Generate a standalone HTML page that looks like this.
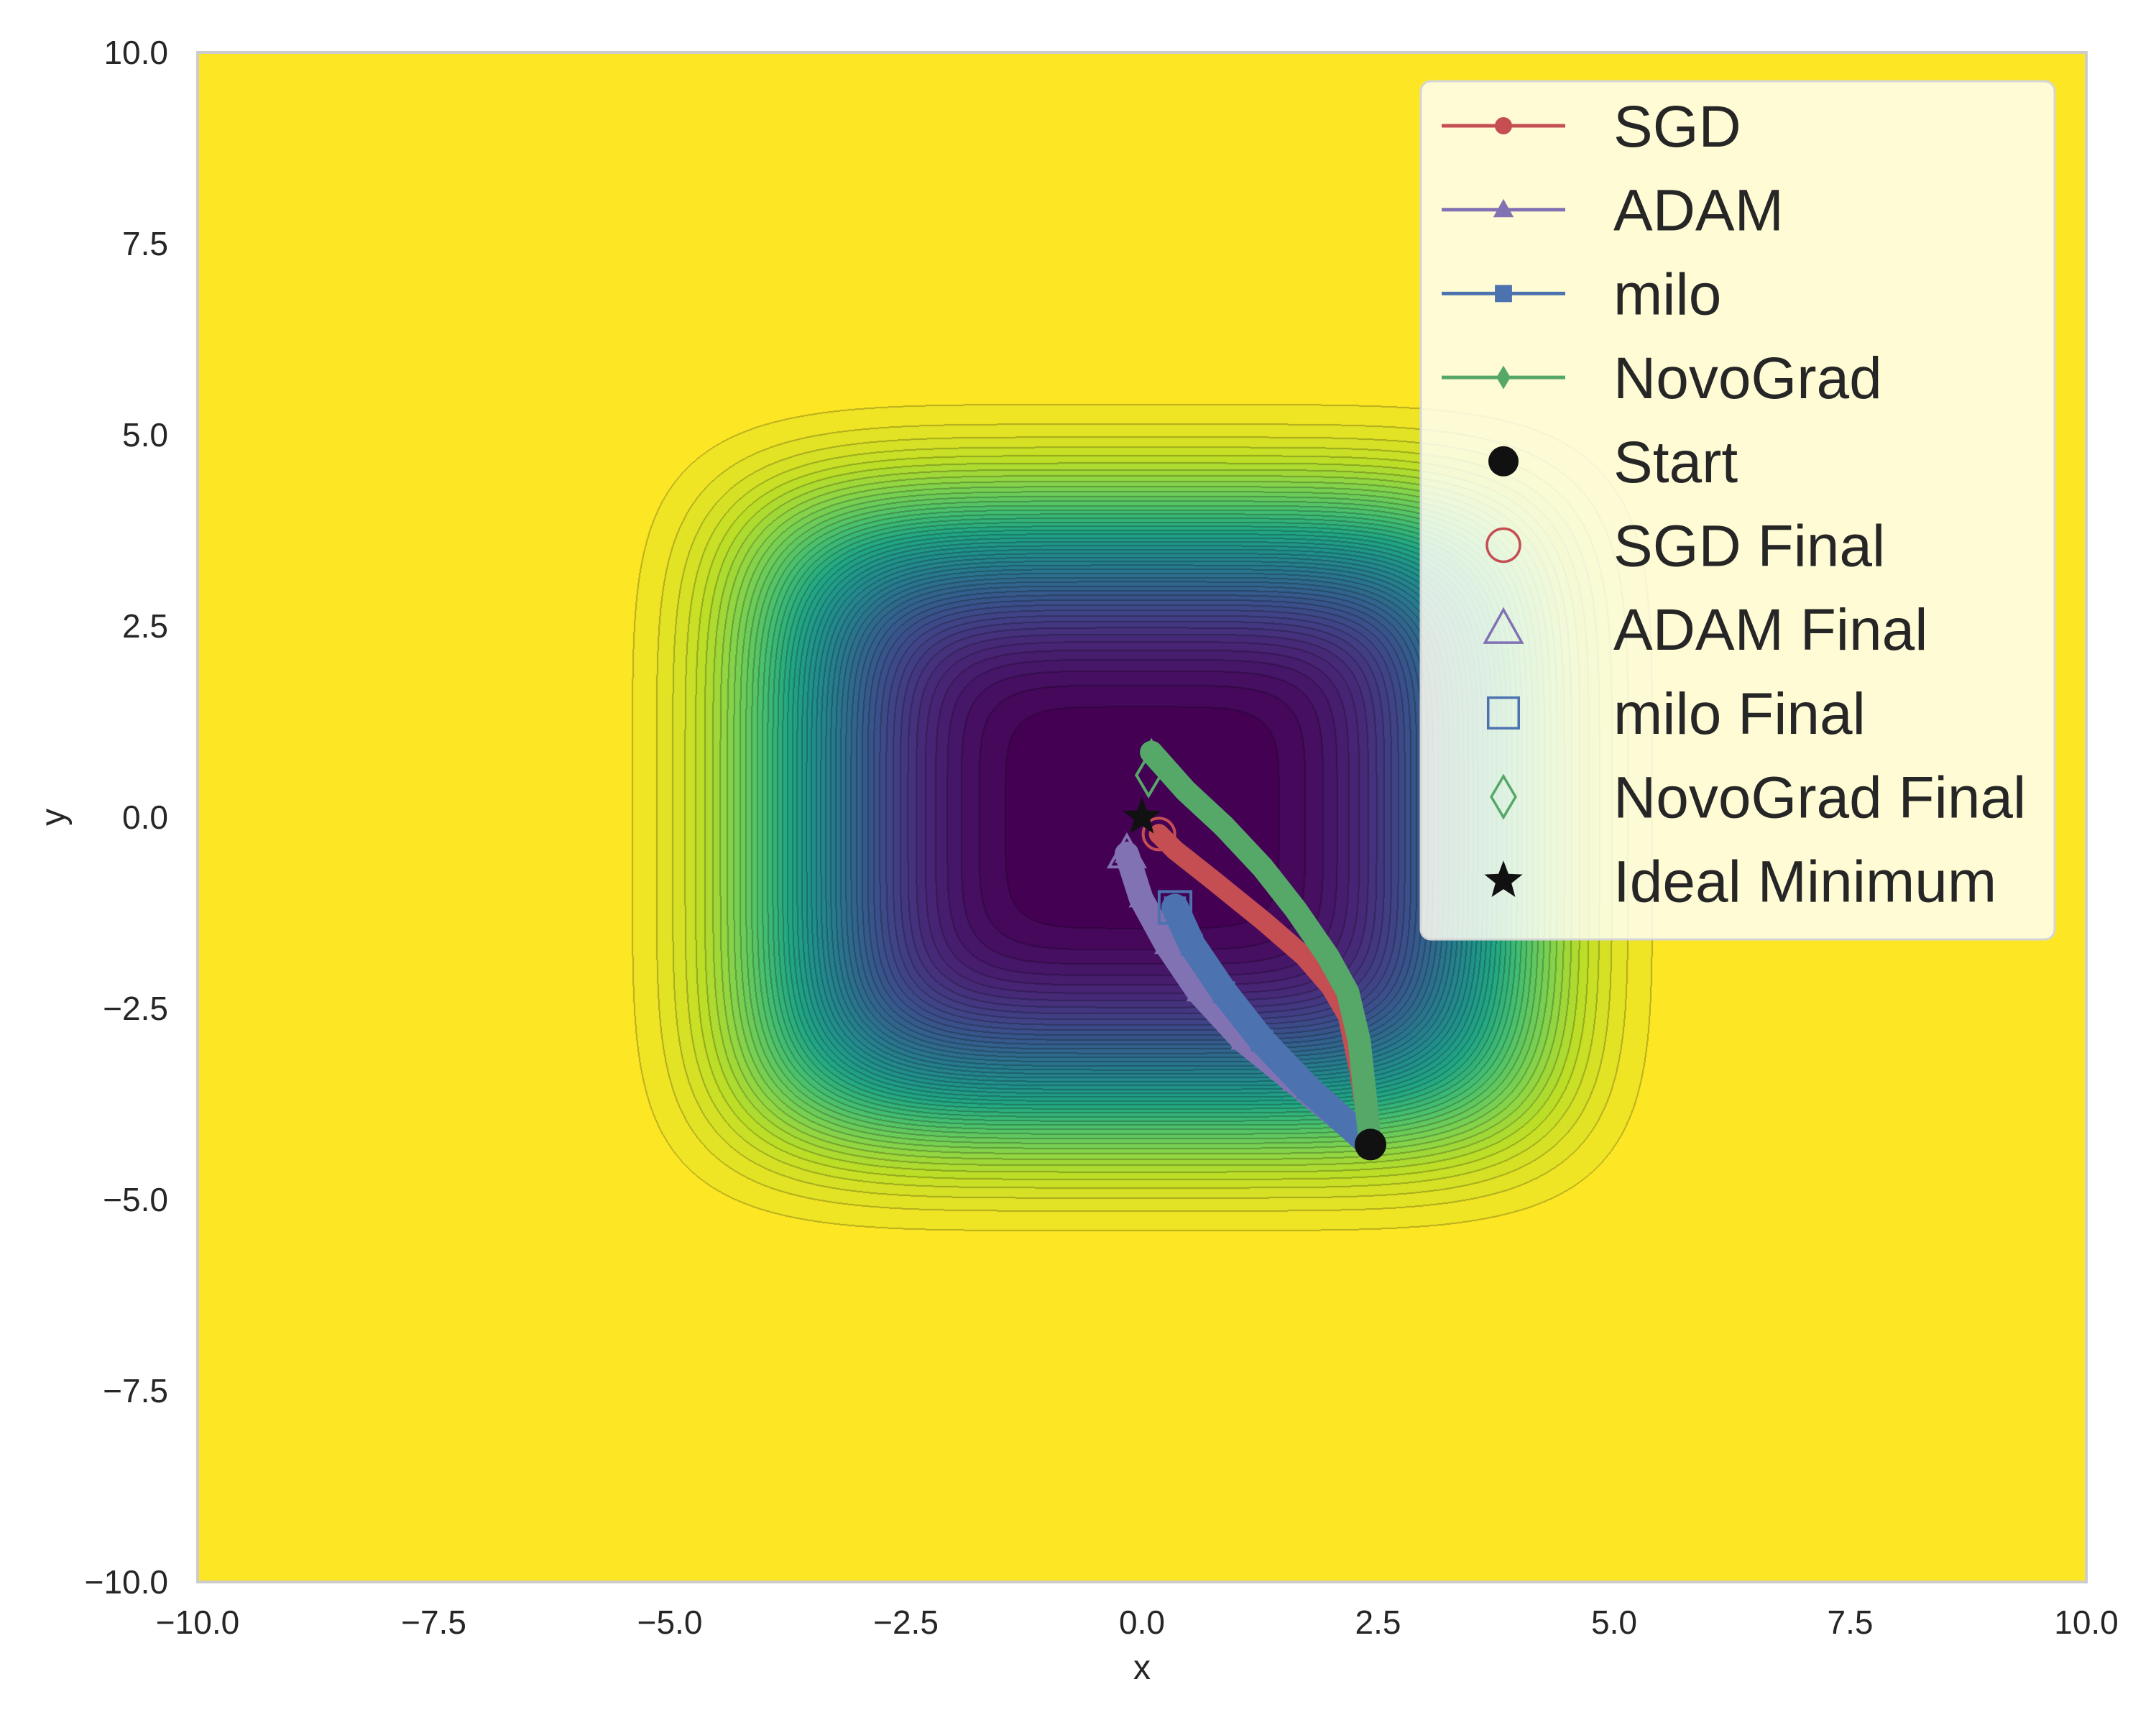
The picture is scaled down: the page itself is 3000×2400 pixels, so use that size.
<!DOCTYPE html>
<html><head><meta charset="utf-8">
<style>
html,body{margin:0;padding:0;background:#fff;}
#wrap{position:relative;width:3000px;height:2400px;overflow:hidden;font-family:"Liberation Sans",sans-serif;}
#cv{position:absolute;left:275px;top:73px;}
#ov{position:absolute;left:0;top:0;}
</style></head>
<body>
<div id="wrap">
<canvas id="cv" width="2628" height="2128"></canvas>
<svg id="ov" width="3000" height="2400"></svg>
</div>
<script>
// ---- data ----
const xTicks = [-10,-7.5,-5,-2.5,0,2.5,5,7.5,10];
const yTicks = [-10,-7.5,-5,-2.5,0,2.5,5,7.5,10];
const startPt = [2.42,-4.28];
const idealMin = [0,0];
const sgdX = [2.42,2.30,2.18,2.00,1.72,1.30,0.75,0.35,0.18];
const sgdY = [-4.28,-3.30,-2.60,-2.22,-1.82,-1.37,-0.82,-0.43,-0.22];
const adamX = [2.42,1.61,1.07,0.60,0.26,-0.01,-0.16];
const adamY = [-4.28,-3.46,-2.92,-2.29,-1.67,-1.06,-0.48];
const miloX = [2.42,1.75,1.27,0.87,0.53,0.35];
const miloY = [-4.28,-3.54,-2.92,-2.29,-1.67,-1.18];
const novoX = [2.42,2.30,2.18,1.97,1.63,1.28,0.87,0.46,0.10];
const novoY = [-4.28,-2.92,-2.29,-1.82,-1.21,-0.66,-0.12,0.35,0.85];
const novoFinal = [0.07,0.55];
const legendLabels = ["SGD","ADAM","milo","NovoGrad","Start","SGD Final","ADAM Final","milo Final","NovoGrad Final","Ideal Minimum"];
const nLevels = 50;

// ---- axes ----
const L=275,R=2903,T=73,B=2201;
const sx = v => L + (v+10)/20*(R-L);
const sy = v => B - (v+10)/20*(B-T);

// ---- contour canvas ----
const vir=[[68,1,84],[72,35,116],[64,67,135],[52,94,141],[41,120,142],[32,144,140],[34,167,132],[68,190,112],[121,209,81],[189,222,38],[253,231,37]];
function viridis(t){t=Math.max(0,Math.min(1,t));const p=t*(vir.length-1),i=Math.min(vir.length-2,Math.floor(p)),f=p-i;
return [0,1,2].map(k=>vir[i][k]+(vir[i+1][k]-vir[i][k])*f);}
(function(){
const cv=document.getElementById('cv'),ctx=cv.getContext('2d');
const W=cv.width,H=cv.height,img=ctx.createImageData(W,H),d=img.data;
const lv=new Int16Array(W*H);
const r0=3.84,p=5;
for(let j=0;j<H;j++){const y=10-j/H*20;for(let i=0;i<W;i++){const x=-10+i/W*20;
const g=Math.pow(Math.pow(Math.abs(x),p)+Math.pow(Math.abs(y),p),1/p);
const f=1-Math.exp(-Math.pow(g/r0,4));lv[j*W+i]=Math.min(nLevels-1,Math.floor(f*nLevels));}}
const cols=[];for(let k=0;k<nLevels;k++)cols.push(viridis(k/(nLevels-1)));
for(let j=0;j<H;j++)for(let i=0;i<W;i++){const idx=j*W+i,l=lv[idx];let c=cols[l];
let edge=(i+1<W&&lv[idx+1]!==l)||(j+1<H&&lv[idx+W]!==l)||(i>0&&lv[idx-1]!==l)||(j>0&&lv[idx-W]!==l);
const o=idx*4;const a=edge?0.75:1;d[o]=c[0]*a;d[o+1]=c[1]*a;d[o+2]=c[2]*a;d[o+3]=255;}
ctx.putImageData(img,0,0);
})();

// ---- svg overlay ----
const NS="http://www.w3.org/2000/svg";
const svg=document.getElementById('ov');
function mk(tag,attrs,parent){const e=document.createElementNS(NS,tag);for(const k in attrs)e.setAttribute(k,attrs[k]);(parent||svg).appendChild(e);return e;}

const frame=mk('rect',{x:L,y:T,width:R-L,height:B-T,fill:'none',stroke:'#cccccc','stroke-width':4});



xTicks.forEach(v=>{const t=mk('text',{x:sx(v),y:2273,'font-size':46,fill:'#262626','text-anchor':'middle','font-family':'Liberation Sans, sans-serif'});
t.textContent=(v<0?'\u2212':'')+Math.abs(v).toFixed(1);

});
yTicks.forEach(v=>{const t=mk('text',{x:234,y:sy(v)+16,'font-size':46,fill:'#262626','text-anchor':'end','font-family':'Liberation Sans, sans-serif'});
t.textContent=(v<0?'\u2212':'')+Math.abs(v).toFixed(1);

});
const xl=mk('text',{x:(L+R)/2,y:2336,'font-size':48,fill:'#262626','text-anchor':'middle','font-family':'Liberation Sans, sans-serif'});xl.textContent='x';


const yl=mk('text',{x:0,y:0,'font-size':48,fill:'#262626','text-anchor':'middle','font-family':'Liberation Sans, sans-serif',transform:`translate(90,${(T+B)/2}) rotate(-90)`});yl.textContent='y';



function marker(type,cx,cy,r,fill,stroke,sw,parent){
 let e;
 if(type==='circle')e=mk('circle',{cx,cy,r,fill,stroke,'stroke-width':sw},parent);
 else if(type==='tri')e=mk('polygon',{points:`${cx},${cy-r} ${cx+r*0.95},${cy+r*0.7} ${cx-r*0.95},${cy+r*0.7}`,fill,stroke,'stroke-width':sw},parent);
 else if(type==='sq')e=mk('rect',{x:cx-r*0.85,y:cy-r*0.85,width:r*1.7,height:r*1.7,fill,stroke,'stroke-width':sw},parent);
 else if(type==='dia')e=mk('polygon',{points:`${cx},${cy-r*1.1} ${cx+r*0.65},${cy} ${cx},${cy+r*1.1} ${cx-r*0.65},${cy}`,fill,stroke,'stroke-width':sw},parent);
 else if(type==='star'){let pts=[];for(let k=0;k<10;k++){const a=-Math.PI/2+k*Math.PI/5,rr=k%2?r*0.42:r;pts.push((cx+rr*Math.cos(a)).toFixed(1)+','+(cy+rr*Math.sin(a)).toFixed(1));}
  e=mk('polygon',{points:pts.join(' '),fill,stroke,'stroke-width':sw},parent);}
 return e;}

const series=[
 {name:'sgd',xs:sgdX,ys:sgdY,c:'#c44e52',w:28,m:'circle',r:14},
 {name:'adam',xs:adamX,ys:adamY,c:'#8172b3',w:34,m:'tri',r:18},
 {name:'milo',xs:miloX,ys:miloY,c:'#4c72b0',w:38,m:'sq',r:18},
 {name:'novograd',xs:novoX,ys:novoY,c:'#55a868',w:32,m:'dia',r:18}];
series.forEach(s=>{
 const g=mk('g',{});
 
 
 const pts=s.xs.map((x,i)=>sx(x)+','+sy(s.ys[i])).join(' ');
 mk('polyline',{points:pts,fill:'none',stroke:s.c,'stroke-width':s.w,'stroke-linejoin':'round','stroke-linecap':'round'},g);
 s.xs.forEach((x,i)=>{const m=marker(s.m,sx(x),sy(s.ys[i]),s.r,s.c,'none',0,g);
  
  });
});
let e;
e=marker('circle',sx(startPt[0]),sy(startPt[1]),22,'#111','none',0);


e=marker('circle',sx(sgdX[sgdX.length-1]),sy(sgdY[sgdY.length-1]),22,'none','#c44e52',4);


e=marker('tri',sx(adamX[adamX.length-1]),sy(adamY[adamY.length-1]),26,'none','#8172b3',4);


e=marker('sq',sx(miloX[miloX.length-1]),sy(miloY[miloY.length-1]),26,'none','#4c72b0',4);


e=marker('dia',sx(novoFinal[0]),sy(novoFinal[1]),26,'none','#55a868',4);


e=marker('star',sx(idealMin[0]),sy(idealMin[1]),28,'#111','none',0);



// ---- legend ----
const lg=mk('g',{});


mk('rect',{x:1977,y:113,width:2859-1977,height:1307-113,rx:14,fill:'#fffff4','fill-opacity':0.85,stroke:'#d5d5d5','stroke-width':3},lg);
const lspec=[['line','circle','#c44e52',12],['line','tri','#8172b3',15],['line','sq','#4c72b0',14],['line','dia','#55a868',15],
 ['pt','circle','#111',21],['open','circle','#c44e52',23],['open','tri','#8172b3',27],['open','sq','#4c72b0',25],['open','dia','#55a868',26],['pt','star','#111',28]];
legendLabels.forEach((lab,i)=>{
 const y=175+i*116.7;
 const ent=mk('g',{},lg);
 
 
 const [kind,m,c,r]=lspec[i];
 if(kind==='line'){mk('line',{x1:2006,y1:y,x2:2178,y2:y,stroke:c,'stroke-width':5},ent);marker(m,2092,y,r,c,'none',0,ent);}
 else if(kind==='pt')marker(m,2092,y,r,c,'none',0,ent);
 else marker(m,2092,y,r,'none',c,3.5,ent);
 const t=mk('text',{x:2245,y:y+29,'font-size':82,fill:'#262626','font-family':'Liberation Sans, sans-serif'},ent);
 t.textContent=lab;
 
 
});
</script>
</body></html>
